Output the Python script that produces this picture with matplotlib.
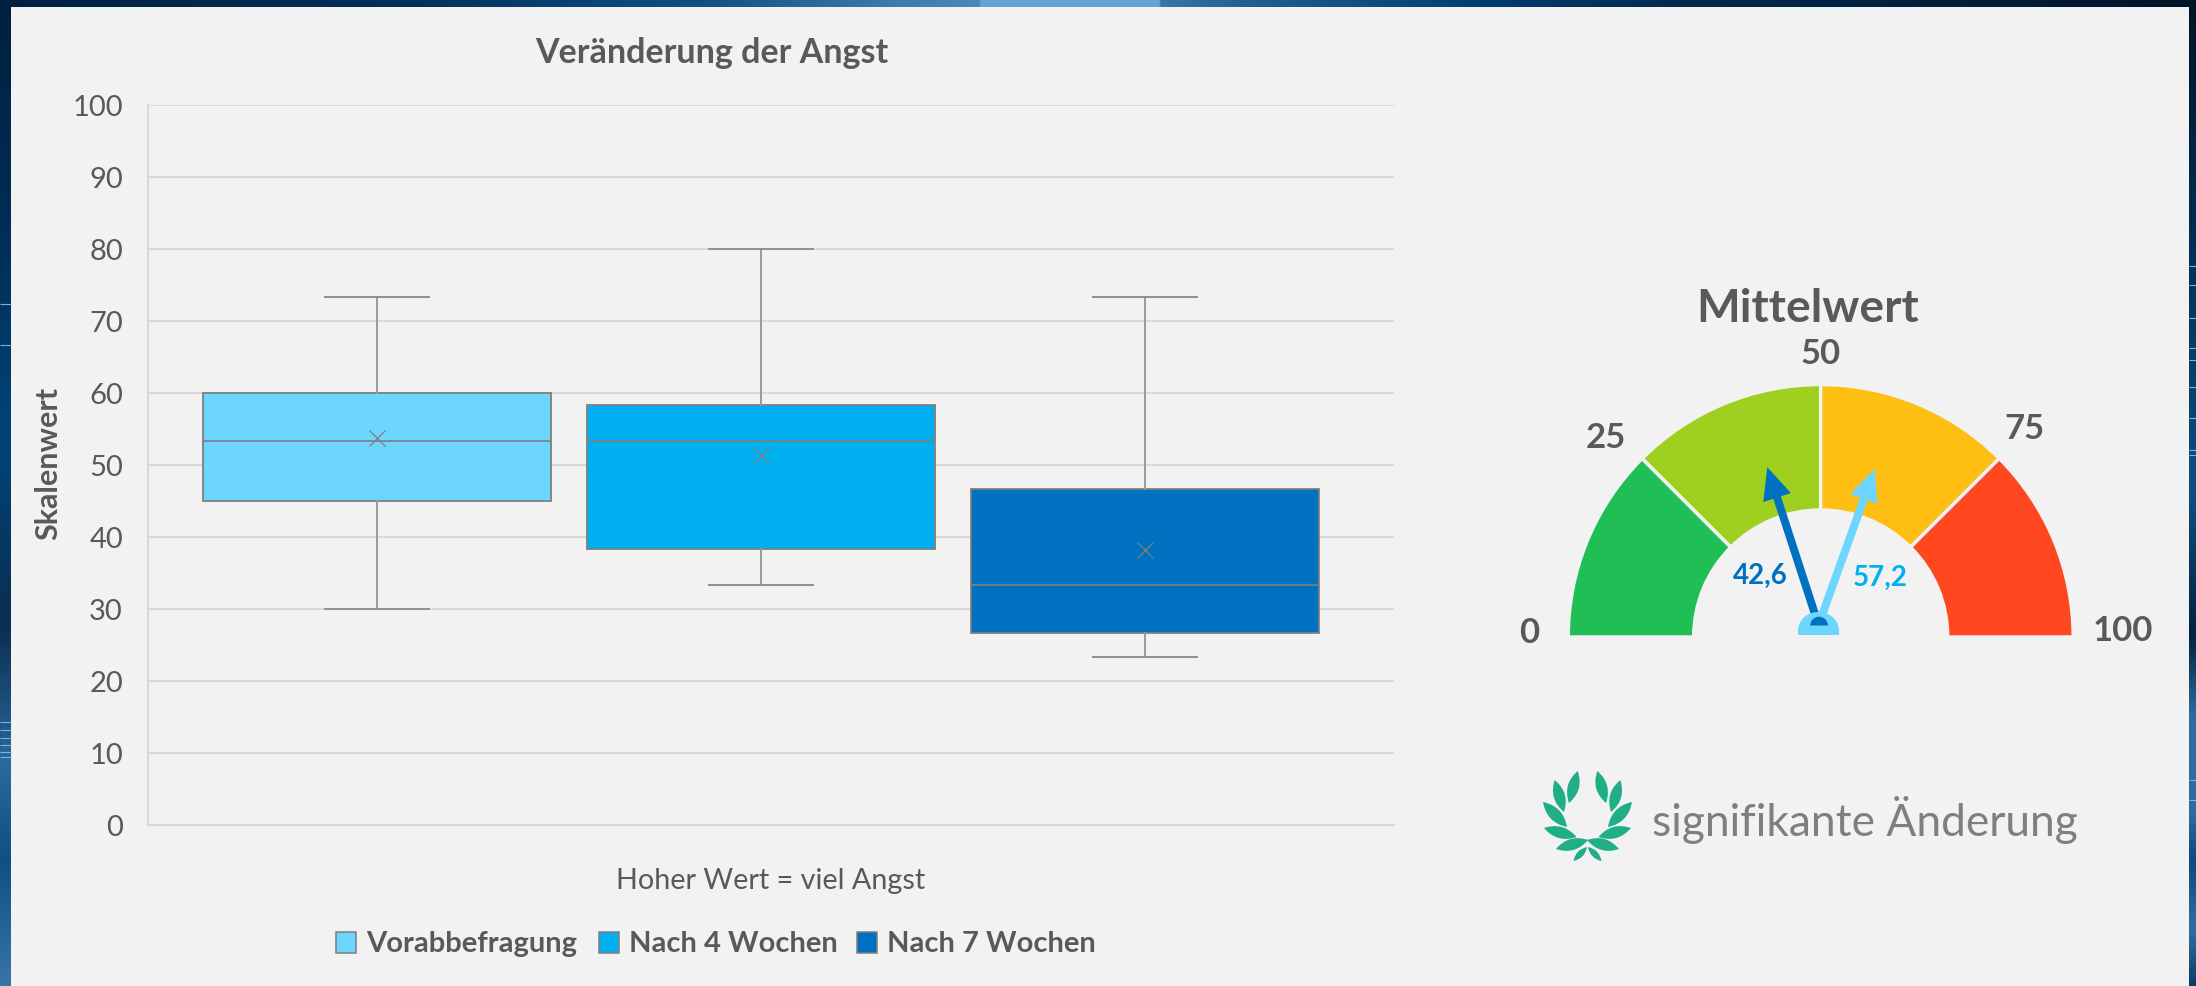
import numpy as np
import matplotlib
matplotlib.use('Agg')
import matplotlib.pyplot as plt
from matplotlib.patches import Wedge, FancyArrow, Rectangle, PathPatch
from matplotlib.path import Path
from matplotlib.colors import LinearSegmentedColormap

plt.rcParams['font.family'] = ['Lato', 'DejaVu Sans']

W = 2196
H = 986

# boxplot values
groups = ['Vorabbefragung', 'Nach 4 Wochen', 'Nach 7 Wochen']
whisker_low = [30.0, 33.3, 23.3]
q1 = [45.0, 38.3, 26.7]
median = [53.3, 53.3, 33.3]
q3 = [60.0, 58.3, 46.7]
whisker_high = [73.3, 80.0, 73.3]
means = [53.7, 51.4, 38.2]
box_colors = ['#6DD6FF', '#00B0F0', '#0070C0']
y_ticks = list(range(0, 101, 10))

# gauge values
gauge_breaks = [0, 25, 50, 75, 100]
gauge_colors = ['#1FBF55', '#9FD01F', '#FFBE12', '#FF4720']
gauge_labels = ['0', '25', '50', '75', '100']
mean_labels = ['42,6', '57,2']
needle_pos = [40.0, 61.0]
needle_colors = ['#0070C0', '#6DD6FF']
label_colors = ['#0070C0', '#00B0F0']

# colours of the photo behind the panel: (pixel position, colour)
top_edge = [(0, '#00203F'), (400, '#00305A'), (700, '#0F5084'), (900, '#3D7CB0'), (979, '#4A88BA'),
            (981, '#64A3D4'), (1159, '#64A3D4'), (1161, '#3A76A8'), (1250, '#1F5F92'),
            (1500, '#003A6C'), (1700, '#00294D'), (2196, '#001428')]
left_edge = [(0, '#00203F'), (250, '#002F58'), (438, '#004578'), (625, '#0A2E50'), (766, '#2A6A9F'),
             (860, '#0E4F85'), (986, '#3A75A8')]
right_edge = [(0, '#001428'), (250, '#002F55'), (494, '#0E4F80'), (635, '#03213F'), (720, '#2F6EA3'),
              (813, '#2E6BA0'), (860, '#0A4A80'), (930, '#2F6FA0'), (986, '#0C3C66')]
left_streaks = [304, 345, 722, 730, 738, 745, 752, 757]
right_streaks = [266, 285, 318, 348, 360, 387, 418, 450, 455, 780, 800]

TEXT = '#595959'
PANEL = '#F2F2F2'
PANEL_X0 = 11
PANEL_X1 = 2189
PANEL_Y0 = 7


def edge_cmap(stops, length):
    return LinearSegmentedColormap.from_list('edge', [(p / length, c) for p, c in stops], N=1024)


def px_axes(fig, x0, y0, x1, y1):
    # axes from reference pixel box (y measured from the top)
    return fig.add_axes([x0 / W, 1 - y1 / H, (x1 - x0) / W, (y1 - y0) / H])


fig = plt.figure(figsize=(W / 100, H / 100), dpi=100)

# background strips around the grey panel
bg = fig.add_axes([0, 0, 1, 1], zorder=0)
ramp = np.linspace(0, 1, 1024)
bg.imshow(ramp.reshape(-1, 1), aspect='auto', cmap=edge_cmap(left_edge, H), extent=[0, PANEL_X0, H, 0])
bg.imshow(ramp.reshape(-1, 1), aspect='auto', cmap=edge_cmap(right_edge, H), extent=[PANEL_X1, W, H, 0])
bg.imshow(ramp.reshape(1, -1), aspect='auto', cmap=edge_cmap(top_edge, W), extent=[0, W, PANEL_Y0, 0])
bg.hlines(left_streaks, 0, PANEL_X0, color='#7FB0D8', lw=0.8)
bg.hlines(right_streaks, PANEL_X1, W, color='#7FB0D8', lw=0.8)
bg.add_patch(Rectangle((PANEL_X0, PANEL_Y0), PANEL_X1 - PANEL_X0, H - PANEL_Y0, color=PANEL, lw=0))
bg.set_xlim(0, W)
bg.set_ylim(H, 0)
bg.axis('off')

# boxplot
ax = px_axes(fig, 148, 105, 1394, 825)
ax.set_zorder(1)
ax.patch.set_alpha(0)
stats = []
for i in range(3):
    stats.append(dict(whislo=whisker_low[i], q1=q1[i], med=median[i], q3=q3[i],
                      whishi=whisker_high[i], mean=means[i], fliers=[]))
art = ax.bxp(stats, positions=[0, 1, 2], widths=0.904, patch_artist=True, showmeans=True,
             showfliers=False, manage_ticks=False,
             boxprops=dict(edgecolor='#7F7F7F', linewidth=1.3),
             medianprops=dict(color='#7F7F7F', linewidth=1.2),
             whiskerprops=dict(color='#999999', linewidth=1.4),
             capprops=dict(color='#8F8F8F', linewidth=1.4),
             capwidths=0.27,
             meanprops=dict(marker='x', markersize=11, markeredgecolor='#7F7F7F',
                            markeredgewidth=0.9, markerfacecolor='none'))
for b, c in zip(art['boxes'], box_colors):
    b.set_facecolor(c)
ax.set_xlim(-0.596, 2.648)
ax.set_ylim(0, 100)
ax.set_yticks(y_ticks)
ax.set_xticks([])
ax.grid(axis='y', color='#D9D9D9', lw=1.4)
ax.set_axisbelow(True)
for s in ['top', 'right']:
    ax.spines[s].set_visible(False)
for s in ['left', 'bottom']:
    ax.spines[s].set_color('#D9D9D9')
    ax.spines[s].set_linewidth(1.4)
ax.tick_params(axis='y', length=0, labelsize=21, labelcolor=TEXT, pad=18)

# gauge and all free text live on one overlay in reference pixels
ov = fig.add_axes([0, 0, 1, 1], zorder=2)
ov.set_xlim(0, W)
ov.set_ylim(H, 0)
ov.axis('off')

ov.text(712, 53, 'Veränderung der Angst', fontsize=24.5, fontweight='bold', color=TEXT, ha='center', va='center')
ov.text(48, 463, 'Skalenwert', fontsize=22, fontweight='bold', color=TEXT, rotation=90, ha='center', va='center')
ov.text(771, 881, 'Hoher Wert = viel Angst', fontsize=20.7, color=TEXT, ha='center', va='center')

# legend
swatch_x = [336, 599, 857]
text_x = [366, 629, 887]
for i, g in enumerate(groups):
    ov.add_patch(Rectangle((swatch_x[i], 932), 20, 21, facecolor=box_colors[i], edgecolor='#7F7F7F', lw=1.1))
    ov.text(text_x[i], 944, g, fontsize=21, fontweight='bold', color=TEXT, ha='left', va='center')

# gauge wedges; y is flipped on the overlay so angles are mirrored
cx, cy = 1820.7, 637
for i, c in enumerate(gauge_colors):
    a0 = 180 + gauge_breaks[i] / 100 * 180
    a1 = 180 + gauge_breaks[i + 1] / 100 * 180
    ov.add_patch(Wedge((cx, cy), 252.5, a0, a1, width=125.5, facecolor=c, edgecolor=PANEL, lw=2.5))

ov.text(1808, 309, 'Mittelwert', fontsize=33.3, fontweight='bold', color=TEXT, ha='center', va='center')
lab_xy = [(1529, 633), (1606, 438), (1821, 354), (2024, 429), (2123, 631)]
for t, (x, y) in zip(gauge_labels, lab_xy):
    ov.text(x, y, t, fontsize=25, fontweight='bold', color=TEXT, ha='center', va='center')

# needles, hub
hx, hy = 1818.5, 625
for v, c in zip(needle_pos, needle_colors):
    ang = np.radians(180 - v / 100 * 180)
    L = 166
    ov.add_patch(FancyArrow(hx, hy, L * np.cos(ang), -L * np.sin(ang), width=8, head_width=29,
                            head_length=32, length_includes_head=True, color=c, lw=0))
hub_top = Path([(1798, 630), (1800, 606), (1837, 606), (1839, 630), (1839, 635), (1798, 635), (1798, 630)],
               [Path.MOVETO, Path.CURVE4, Path.CURVE4, Path.CURVE4, Path.LINETO, Path.LINETO, Path.CLOSEPOLY])
ov.add_patch(PathPatch(hub_top, facecolor='#6DD6FF', lw=0))
ov.add_patch(Wedge((1819, 625.5), 8.8, 180, 360, facecolor='#0070C0', lw=0))

ov.text(1760.5, 576, mean_labels[0], fontsize=20, fontweight='bold', color=label_colors[0], ha='center', va='center')
ov.text(1880, 578, mean_labels[1], fontsize=20, fontweight='bold', color=label_colors[1], ha='center', va='center')


# laurel wreath next to "signifikante Änderung"
def leaf(base, tip, bulge=0.34, color='#1FAE85'):
    b = np.array(base, float)
    t = np.array(tip, float)
    n = np.array([-(t - b)[1], (t - b)[0]])
    m = (b + t) / 2
    verts = [b, m + n * bulge, t, m - n * bulge, b]
    codes = [Path.MOVETO, Path.CURVE3, Path.CURVE3, Path.CURVE3, Path.CURVE3]
    ov.add_patch(PathPatch(Path(verts, codes), facecolor=color, lw=0))


mid = 1587.5
leaves = [((1569, 803), (1577.7, 771)), ((1564, 812), (1554.7, 780)), ((1567, 827), (1543, 802)),
          ((1576.5, 837), (1544, 828)), ((1588, 840), (1556, 849)), ((1587, 847), (1573.5, 861))]
for b, t in leaves:
    leaf(b, t)
    leaf((2 * mid - b[0], b[1]), (2 * mid - t[0], t[1]))

ov.text(1652, 820, 'signifikante Änderung', fontsize=31.9, color='#7F7F7F', ha='left', va='center')

fig.savefig('out.png', dpi=100)
